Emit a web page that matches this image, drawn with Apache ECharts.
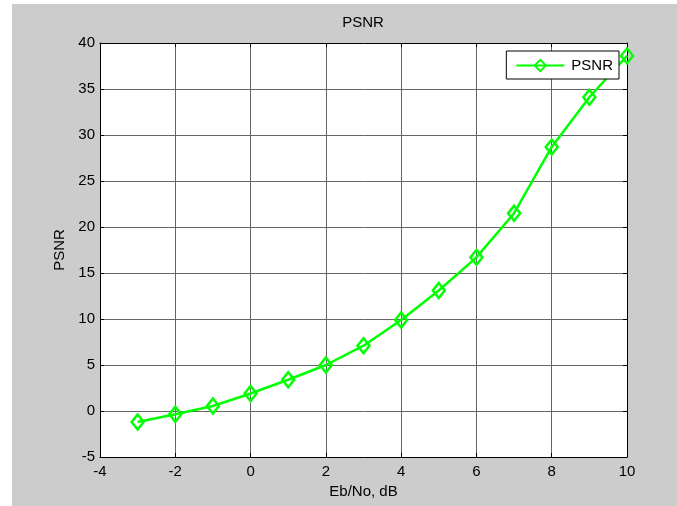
<!DOCTYPE html>
<html>
<head>
<meta charset="utf-8">
<title>PSNR</title>
<script src="https://cdn.jsdelivr.net/npm/echarts@6/dist/echarts.min.js"></script>
<style>
  html, body { margin: 0; padding: 0; background: #fff; }
  #chart { position: absolute; left: 12px; top: 4px; width: 665px; height: 502px; }
</style>
</head>
<body>
<div id="chart"></div>
<script>
// Eb/No (dB) and the PSNR
var ebno = [-3, -2, -1, 0, 1, 2, 3, 4, 5, 6, 7, 8, 9, 10]
var psnr = [-1.2, -0.35, 0.55, 1.9, 3.4, 5.0, 7.1, 9.9, 13.1, 16.7, 21.5, 28.7, 34.1, 38.6]

var xRange = [-4, 10, 2]
var yRange = [-5, 40, 5]

var font = "'Liberation Sans', Arial, sans-serif"
var fs = 15
var green = '#00ff00'

var chart = echarts.init(document.getElementById('chart'))

var points = []
for (var i = 0; i < ebno.length; i++) {
  points.push([ebno[i], psnr[i]])
}

// frame axes (top / right) just for the box and the inside ticks
function frameAxis(pos, range) {
  return {
    type: 'value',
    position: pos,
    min: range[0],
    max: range[1],
    interval: range[2],
    axisLine: { show: true, onZero: false, lineStyle: { color: '#000', width: 1 } },
    axisTick: { show: true, inside: true, length: 4, lineStyle: { color: '#000' } },
    axisLabel: { show: false },
    splitLine: { show: false }
  }
}

var option = {
  backgroundColor: '#cccccc',
  animation: false,
  textStyle: { fontFamily: font },
  title: {
    text: 'PSNR',
    left: 351,
    textAlign: 'center',
    top: 11,
    padding: 0,
    textStyle: { fontFamily: font, fontSize: fs, fontWeight: 'normal', color: '#000' }
  },
  legend: {
    data: ['PSNR'],
    right: 58,
    top: 47,
    orient: 'vertical',
    backgroundColor: '#fff',
    borderColor: '#000',
    borderWidth: 1,
    borderRadius: 0,
    padding: [7, 6, 6, 9],
    itemWidth: 48,
    itemHeight: 14,
    itemGap: 0,
    textStyle: { fontFamily: font, fontSize: fs, color: '#000', padding: [0, 0, 0, 2] }
  },
  grid: { left: 88, right: 50, top: 39, bottom: 49, show: true, backgroundColor: '#fff', borderWidth: 0 },
  xAxis: [{
    type: 'value',
    min: xRange[0],
    max: xRange[1],
    interval: xRange[2],
    name: 'Eb/No, dB',
    nameLocation: 'middle',
    nameGap: 27,
    nameTextStyle: { fontFamily: font, fontSize: fs, color: '#000' },
    axisLine: { show: true, onZero: false, lineStyle: { color: '#000', width: 1 } },
    axisTick: { show: true, inside: true, length: 4, lineStyle: { color: '#000' } },
    axisLabel: { fontFamily: font, fontSize: fs, color: '#000', margin: 7 },
    splitLine: { show: true, lineStyle: { color: '#666', width: 1 } }
  }, frameAxis('top', xRange)],
  yAxis: [{
    type: 'value',
    min: yRange[0],
    max: yRange[1],
    interval: yRange[2],
    name: 'PSNR',
    nameLocation: 'middle',
    nameGap: 33,
    nameTextStyle: { fontFamily: font, fontSize: fs, color: '#000' },
    axisLine: { show: true, onZero: false, lineStyle: { color: '#000', width: 1 } },
    axisTick: { show: true, inside: true, length: 4, lineStyle: { color: '#000' } },
    axisLabel: { fontFamily: font, fontSize: fs, color: '#000', margin: 5 },
    splitLine: { show: true, lineStyle: { color: '#666', width: 1 } }
  }, frameAxis('right', yRange)],
  series: [{
    name: 'PSNR',
    type: 'line',
    xAxisIndex: 0,
    yAxisIndex: 0,
    data: points,
    symbol: 'diamond',
    symbolSize: [12, 15],
    showAllSymbol: true,
    clip: false,
    lineStyle: { color: green, width: 2.5 },
    itemStyle: { color: 'rgba(255,255,255,0)', borderColor: green, borderWidth: 2.5 },
    emphasis: { disabled: true }
  }]
}

chart.setOption(option)
</script>
</body>
</html>
